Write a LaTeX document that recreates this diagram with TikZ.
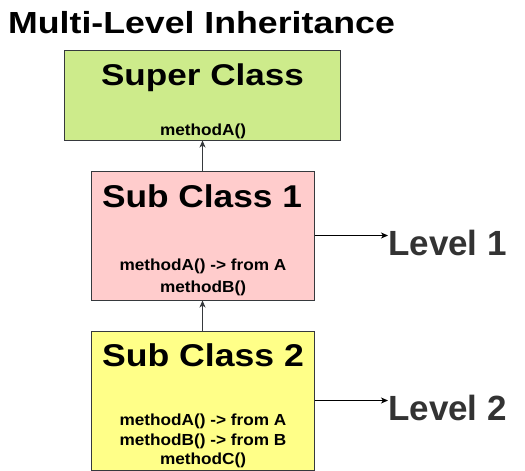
\documentclass[tikz,border=0pt]{standalone}
\usepackage{fontspec}
\setmainfont{Liberation Sans}
\usetikzlibrary{arrows.meta}
\definecolor{greenfill}{HTML}{CDEB8B}
\definecolor{pinkfill}{HTML}{FFCCCC}
\definecolor{yellowfill}{HTML}{FFFF88}
\definecolor{boxline}{HTML}{36393D}
\definecolor{levelgray}{HTML}{333333}
\tikzset{
  classbox/.style={draw=boxline, line width=1pt, inner sep=0pt, minimum width=223pt},
  classname/.style={anchor=base, inner sep=0pt, font=\bfseries\fontsize{31.5}{38}\selectfont},
  methodtxt/.style={anchor=base, inner sep=0pt, font=\bfseries\fontsize{16}{20}\selectfont},
  leveltxt/.style={anchor=base west, inner sep=0pt, text=levelgray, font=\bfseries\fontsize{35}{40}\selectfont},
  inherit/.style={draw=boxline, line width=1pt, -{Stealth[length=7pt,width=6pt,inset=2pt]}},
  levelarrow/.style={draw=black, line width=1pt, -{Stealth[length=7pt,width=6pt,inset=2pt]}}
}
\newcommand{\mtxt}[1]{\scalebox{1.075}[1]{#1}}
\begin{document}
\begin{tikzpicture}[x=1pt,y=-1pt]
\useasboundingbox (0,0) rectangle (525,471);
\node[anchor=base west, inner sep=0pt, font=\bfseries\fontsize{30.5}{36}\selectfont] (title) at (8,33) {\scalebox{1.17}[1]{Multi-Level Inheritance}};
% boxes
\node[classbox, fill=greenfill, minimum width=276pt, minimum height=90pt] (super) at (202,95) {};
\node[classbox, fill=pinkfill, minimum height=129pt] (sub1) at (202.5,235.5) {};
\node[classbox, fill=yellowfill, minimum height=139pt] (sub2) at (202.5,400.5) {};
% texts
\node[classname, font=\bfseries\fontsize{30}{36}\selectfont] (superT) at (202.5,85) {\scalebox{1.17}[1]{Super Class}};
\node[methodtxt] (superM) at (203,135) {\mtxt{methodA()}};
\node[classname] (sub1T) at (202,207) {\scalebox{1.12}[1]{Sub Class 1}};
\node[methodtxt] (sub1M1) at (203,270) {\mtxt{methodA() -> from A}};
\node[methodtxt] (sub1M2) at (203,292) {\mtxt{methodB()}};
\node[classname] (sub2T) at (203,366) {\scalebox{1.13}[1]{Sub Class 2}};
\node[methodtxt] (sub2M1) at (203,425) {\mtxt{methodA() -> from A}};
\node[methodtxt] (sub2M2) at (203,445) {\mtxt{methodB() -> from B}};
\node[methodtxt] (sub2M3) at (203,464) {\mtxt{methodC()}};
\node[leveltxt] (lvl1) at (388,255.5) {Level 1};
\node[leveltxt] (lvl2) at (388,420) {Level 2};
% connectors
\draw[inherit] (sub1.north) -- (sub1.north |- super.south);
\draw[inherit] (sub2.north) -- (sub2.north |- sub1.south);
\draw[levelarrow] (sub1.east) -- (sub1.east -| lvl1.west);
\draw[levelarrow] (sub2.east) -- (sub2.east -| lvl2.west);
\end{tikzpicture}
\end{document}
